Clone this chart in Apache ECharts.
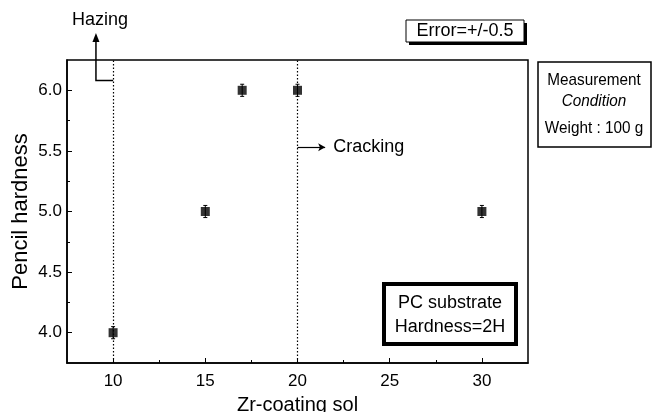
<!DOCTYPE html>
<html>
<head>
<meta charset="utf-8">
<script src="https://cdn.jsdelivr.net/npm/echarts@6/dist/echarts.min.js"></script>
<style>
  html, body { margin: 0; padding: 0; background: #fff; }
  #chart { width: 652px; height: 412px; }
</style>
</head>
<body>
<div id="chart"></div>
<script>
'use strict';

// data
var zrSol = [10, 15, 17, 20, 30];
var hardness = [4.0, 5.0, 6.0, 6.0, 5.0];
var errBar = [0.05, 0.05, 0.05, 0.05, 0.05];
var xMajorTicks = [10, 15, 20, 25, 30];
var xMinorTicks = [12.5, 17.5, 22.5, 27.5];
var yMajorTicks = [4.0, 4.5, 5.0, 5.5, 6.0];
var yMinorTicks = [4.25, 4.75, 5.25, 5.75];
var limitLines = [10, 20];

var FONT = 'Liberation Sans, Arial, sans-serif';

var chart = echarts.init(document.getElementById('chart'));

var points = zrSol.map(function (x, i) { return [x, hardness[i]]; });
var errData = zrSol.map(function (x, i) { return [x, hardness[i] - errBar[i], hardness[i] + errBar[i]]; });

function baseX(extra) {
    return Object.assign({
        type: 'value', min: 7.5, max: 32.5,
        axisLine: { show: true, lineStyle: { color: '#000', width: 1.5 } },
        splitLine: { show: false }
    }, extra);
}
function baseY(extra) {
    return Object.assign({
        type: 'value', min: 3.75, max: 6.25,
        axisLine: { show: true, lineStyle: { color: '#000', width: 1.5 } },
        splitLine: { show: false }
    }, extra);
}

var option = {
    animation: false,
    backgroundColor: '#fff',
    grid: {
        left: 67, top: 60, right: 124, bottom: 49,
        outerBoundsMode: 'none',
        containLabel: false,
        show: true, borderColor: '#000', borderWidth: 1.5
    },
    xAxis: [
        baseX({
            name: 'Zr-coating sol', nameLocation: 'middle', nameGap: 32,
            nameMoveOverlap: false,
            nameTextStyle: { fontFamily: FONT, fontSize: 20, color: '#000' },
            axisTick: { inside: true, length: 5, customValues: xMajorTicks, lineStyle: { color: '#000' } },
            axisLabel: { customValues: xMajorTicks, fontFamily: FONT, fontSize: 17, color: '#000', margin: 10 }
        }),
        baseX({
            position: 'bottom',
            axisLine: { show: false },
            axisTick: { inside: true, length: 3, customValues: xMinorTicks, lineStyle: { color: '#000' } },
            axisLabel: { show: false }
        })
    ],
    yAxis: [
        baseY({
            name: 'Pencil hardness', nameLocation: 'middle', nameGap: 35,
            nameMoveOverlap: false,
            nameTextStyle: { fontFamily: FONT, fontSize: 22, color: '#000' },
            axisTick: { inside: true, length: 5, customValues: yMajorTicks, lineStyle: { color: '#000' } },
            axisLabel: {
                customValues: yMajorTicks, fontFamily: FONT, fontSize: 17, color: '#000', margin: 5,
                formatter: function (v) { return v.toFixed(1); }
            }
        }),
        baseY({
            position: 'left',
            axisLine: { show: false },
            axisTick: { inside: true, length: 3, customValues: yMinorTicks, lineStyle: { color: '#000' } },
            axisLabel: { show: false }
        })
    ],
    series: [
        {
            type: 'scatter',
            data: points,
            symbol: 'rect',
            symbolSize: 9,
            itemStyle: { color: '#000' },
            z: 5,
            markLine: {
                silent: true,
                symbol: 'none',
                label: { show: false },
                lineStyle: { color: '#000', type: [1.5, 2], width: 1.2 },
                data: limitLines.map(function (v) { return { xAxis: v }; })
            }
        },
        {
            type: 'custom',
            data: errData,
            z: 4,
            renderItem: function (params, api) {
                var lo = api.coord([api.value(0), api.value(1)]);
                var hi = api.coord([api.value(0), api.value(2)]);
                var w = 2;
                var st = { stroke: '#000', lineWidth: 1 };
                return {
                    type: 'group',
                    children: [
                        { type: 'line', shape: { x1: lo[0], y1: lo[1], x2: hi[0], y2: hi[1] }, style: st },
                        { type: 'line', shape: { x1: lo[0] - w, y1: lo[1], x2: lo[0] + w, y2: lo[1] }, style: st },
                        { type: 'line', shape: { x1: hi[0] - w, y1: hi[1], x2: hi[0] + w, y2: hi[1] }, style: st }
                    ]
                };
            }
        },
        {
            // cracking arrow
            type: 'line',
            data: [],
            markLine: {
                silent: true,
                symbol: ['none', 'arrow'],
                symbolSize: [6, 7],
                label: { show: false },
                lineStyle: { color: '#000', type: 'solid', width: 1.2 },
                data: [[{ coord: [20, 5.53] }, { coord: [21.5, 5.53] }]]
            }
        }
    ]
};
chart.setOption(option);

// annotations placed from data coordinates
var pElbow = chart.convertToPixel({ gridIndex: 0 }, [10, 6.08]);
var pBend = chart.convertToPixel({ gridIndex: 0 }, [9.07, 6.08]);
var pCrack = chart.convertToPixel({ gridIndex: 0 }, [21.5, 5.53]);
var pTop = chart.convertToPixel({ gridIndex: 0 }, [9.07, 6.25]);

function boxText(txt, x, y, size, extra) {
    return {
        type: 'text', x: x, y: y, scaleX: extra && extra.scaleX || 1,
        style: Object.assign({
            text: txt, fontFamily: FONT, fontSize: size, fill: '#000',
            align: 'center', verticalAlign: 'middle'
        }, extra && extra.style)
    };
}

chart.setOption({
    graphic: [
        {
            type: 'polyline',
            shape: { points: [pElbow, pBend, [pBend[0], pTop[1] - 20]] },
            style: { stroke: '#000', lineWidth: 1.5, fill: null }
        },
        {
            type: 'polygon',
            shape: { points: [[pBend[0] - 3.5, pTop[1] - 18], [pBend[0] + 3.5, pTop[1] - 18], [pBend[0], pTop[1] - 27]] },
            style: { fill: '#000' }
        },
        boxText('Hazing', 100, 20, 18),
        {
            type: 'text', x: pCrack[0] + 8, y: pCrack[1],
            style: { text: 'Cracking', fontFamily: FONT, fontSize: 18, fill: '#000', align: 'left', verticalAlign: 'middle' }
        },
        // Error box with shadow
        { type: 'rect', shape: { x: 409, y: 23, width: 118, height: 22 }, style: { fill: '#000' } },
        { type: 'rect', shape: { x: 406, y: 20, width: 118, height: 22 }, style: { fill: '#fff', stroke: '#000', lineWidth: 1 } },
        boxText('Error=+/-0.5', 465, 31, 18),
        // measurement condition box
        { type: 'rect', shape: { x: 538, y: 62, width: 113, height: 85 }, style: { fill: '#fff', stroke: '#000', lineWidth: 1.5 } },
        boxText('Measurement', 594, 80, 17, { scaleX: 0.9 }),
        boxText('Condition', 594, 101, 17, { scaleX: 0.9, style: { fontStyle: 'italic' } }),
        boxText('Weight : 100 g', 594, 128, 17, { scaleX: 0.9 }),
        // substrate box
        { type: 'rect', shape: { x: 384, y: 284, width: 132, height: 60 }, style: { fill: '#fff', stroke: '#000', lineWidth: 4 } },
        boxText('PC substrate', 450, 303, 18),
        boxText('Hardness=2H', 450, 327, 18)
    ]
});
</script>
</body>
</html>
